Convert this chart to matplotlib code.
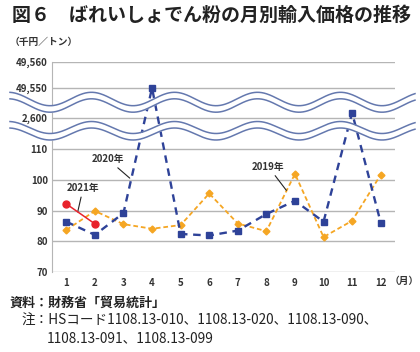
import numpy as np
import matplotlib
matplotlib.use('Agg')
import matplotlib.pyplot as plt
from matplotlib.ticker import FixedLocator, FuncFormatter

plt.rcParams['font.family'] = ['Noto Sans CJK JP', 'DejaVu Sans']

####################
# Data #############
####################
months = list(range(1, 13))
price_2019 = [83.7, 89.9, 85.6, 84.1, 85.3, 95.6, 85.8, 83.3, 102.0, 81.4, 86.7, 101.7]
price_2020 = [86.4, 82.1, 89.2, 49550, 82.4, 81.9, 83.5, 88.9, 93.2, 86.4, 2602, 86.1]
price_2021 = [92.2, 85.7]
ytick_values = [70, 80, 90, 100, 110, 2600, 49550, 49560]

title = '図６　ばれいしょでん粉の月別輸入価格の推移'
unit_label = '（千円／トン）'
source_note = '資料：財務省「貿易統計」'
hs_note_1 = '注：HSコード1108.13-010、1108.13-020、1108.13-090、'
hs_note_2 = '1108.13-091、1108.13-099'

# broken y axis: piecewise linear value -> height mapping
brk_val = [70, 113, 2597, 2606, 49545, 49560]
brk_pos = [0, 131.9, 146.2, 169.6, 171, 210]


def fwd(v):
    return np.interp(v, brk_val, brk_pos)


def inv(u):
    return np.interp(u, brk_pos, brk_val)


c19 = '#F5A623'
c20 = '#2E4298'
c21 = '#E8222B'
grid_c = '#b5b5b5'
wave_c = '#6478AE'
text_c = '#333333'

fig = plt.figure(figsize=(4.2, 3.52), dpi=100)
ax = fig.add_axes([52 / 420, 80 / 352, 343 / 420, 210 / 352])
ax.set_yscale('function', functions=(fwd, inv))
ax.set_xlim(0.5, 12.5)
ax.set_ylim(70, 49560)

ax.plot(months, price_2019, color=c19, ls=(0, (2.6, 1.6)), lw=1.3,
        marker='D', ms=3.5, zorder=3)
ax.plot(months, price_2020, color=c20, ls=(0, (3.2, 2.4)), lw=1.7,
        marker='s', ms=4.5, zorder=3)
ax.plot(months[:2], price_2021, color=c21, lw=1.1, marker='o', ms=5, zorder=4)

ax.yaxis.set_major_locator(FixedLocator(ytick_values))
ax.yaxis.set_major_formatter(FuncFormatter(lambda v, p: f'{int(round(v)):,}'))
ax.yaxis.set_minor_locator(FixedLocator([]))
ax.set_xticks(months)
ax.grid(axis='y', color=grid_c, lw=1.0)
ax.set_axisbelow(True)
for s in ['top', 'right', 'bottom']:
    ax.spines[s].set_visible(False)
ax.spines['left'].set_color(grid_c)
ax.tick_params(axis='both', length=0, labelsize=7, colors=text_c)
ax.tick_params(axis='y', pad=3)
ax.tick_params(axis='x', pad=4)
plt.setp(ax.get_xticklabels() + ax.get_yticklabels(), fontweight='bold')

# series labels
arrow = dict(arrowstyle='-', color='#222222', lw=0.8, shrinkA=1, shrinkB=0)
ax.annotate('2020年', xy=(3.22, 100.6), xytext=(2.45, 106.8), fontsize=7,
            fontweight='bold', color=text_c, ha='center', va='center', arrowprops=arrow)
ax.annotate('2019年', xy=(8.7, 96.6), xytext=(8.07, 104.3), fontsize=7,
            fontweight='bold', color=text_c, ha='center', va='center', arrowprops=arrow)
ax.annotate('2021年', xy=(1.4, 89.6), xytext=(1.59, 97.4), fontsize=7,
            fontweight='bold', color=text_c, ha='center', va='center', arrowprops=arrow)

# overlay in pixel coordinates for wave breaks and texts
ov = fig.add_axes([0, 0, 1, 1], zorder=5)
ov.set_xlim(0, 420)
ov.set_ylim(352, 0)
ov.axis('off')
ov.patch.set_visible(False)

xw = np.linspace(10, 415, 500)
for top, amp in [(99, 6.7), (127.5, 6.0)]:
    y1 = top + amp * np.cos(2 * np.pi * (xw - 50) / 83)
    y2 = y1 + 6.5
    ov.fill_between(xw, y1, y2, color='white', lw=0)
    ov.plot(xw, y1, color=wave_c, lw=1.1)
    ov.plot(xw, y2, color=wave_c, lw=1.1)

ov.text(12, 15, title, fontsize=13.7, fontweight='bold', color='#222222', va='center', ha='left')
ov.text(10, 42, unit_label, fontsize=7, fontweight='bold', color=text_c, va='center', ha='left')
ov.text(390, 281, '（月）', fontsize=7, fontweight='bold', color=text_c, va='center', ha='left')
ov.text(10, 303, source_note, fontsize=9.4, fontweight='bold', color='#222222', va='center', ha='left')
ov.text(21, 321, hs_note_1, fontsize=9.8, color='#222222', va='center', ha='left')
ov.text(47, 338, hs_note_2, fontsize=9.8, color='#222222', va='center', ha='left')

fig.savefig('out.png', dpi=100)
